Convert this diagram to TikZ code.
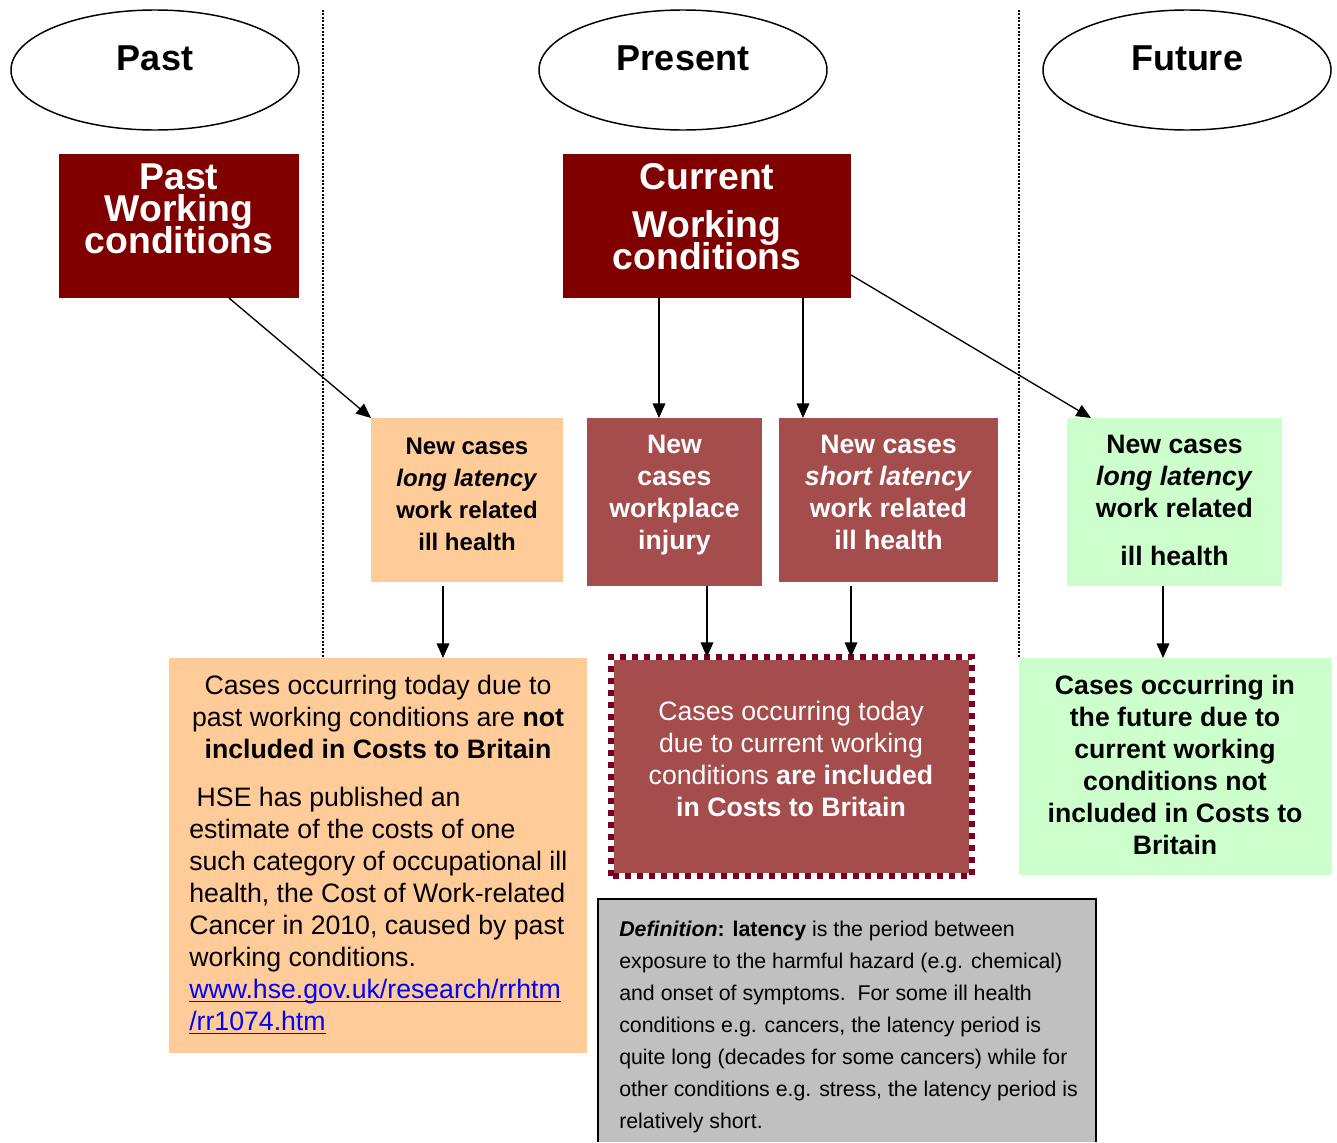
\documentclass[tikz,border=0pt]{standalone}
\usepackage{fontspec}
\setmainfont{Liberation Sans}
\usetikzlibrary{shapes.geometric,arrows.meta,calc,fit}
\definecolor{darkred}{HTML}{800000}
\definecolor{rose}{HTML}{A54C4C}
\definecolor{peach}{HTML}{FFCC99}
\definecolor{mint}{HTML}{CCFFCC}
\definecolor{greybox}{HTML}{C0C0C0}
\definecolor{dashred}{HTML}{7A0022}
\definecolor{linkblue}{HTML}{0000FF}
\newcommand\linkul[1]{\setbox0=\hbox{#1}\rlap{\rule[-2.4pt]{\wd0}{0.9pt}}\box0}
\newcommand\tightlines{\lineskiplimit=-50pt\relax}
\begin{document}
\begin{tikzpicture}[x=0.75pt,y=-0.75pt,
  box/.style={inner sep=0pt, outer sep=0pt},
  oval/.style={ellipse, draw, line width=1.1pt, minimum width=216pt, minimum height=90pt, inner sep=0pt},
  title/.style={font=\fontsize{27}{30}\selectfont\bfseries},
  head/.style={text=white, align=center, font=\fontsize{28}{24}\selectfont\bfseries\tightlines},
  small/.style={align=center, font=\fontsize{18}{24}\selectfont\bfseries\tightlines},
  mid/.style={align=center, font=\fontsize{20}{24}\selectfont\bfseries\tightlines},
  body/.style={font=\fontsize{20}{24}\selectfont\tightlines},
  arr/.style={line width=1pt, -{Triangle[length=11pt,width=9.5pt]}},
  sep/.style={line width=1.5pt, dash pattern=on 1.5pt off 1.1pt}
]
\useasboundingbox (0,0) rectangle (1337,1142);

% separators
\coordinate (s1a) at (323,10); \coordinate (s1b) at (323,657);
\coordinate (s2a) at (1019,10); \coordinate (s2b) at (1019,657);
\draw[sep] (s1a) -- (s1b);
\draw[sep] (s2a) -- (s2b);

% ellipses
\node[oval] (epast) at (155,70) {};
\node[oval] (epres) at (683,70) {};
\node[oval] (efut) at (1187,70) {};
\node[title] (tpast) at (155,58) {Past};
\node[title] (tpres) at (683,58) {Present};
\node[title] (tfut) at (1187,58) {Future};

% working condition boxes
\node[box, fill=darkred, fit={(59,154) (299,298)}] (pwc) {};
\node[box, fill=darkred, fit={(563,154) (851,298)}] (cwc) {};

% second row
\node[box, fill=peach, fit={(371,418) (563,582)}] (no1) {};
\node[box, fill=rose, fit={(587,418) (762,586)}] (nr1) {};
\node[box, fill=rose, fit={(779,418) (998,582)}] (nr2) {};
\node[box, fill=mint, fit={(1067,418) (1282,586)}] (ng) {};

% bottom row
\node[box, fill=peach, fit={(169,658) (587,1053)}] (ob) {};
\node[box, fill=rose, outer sep=2.25pt, fit={(614,660) (969,873)}] (rb) {};
\draw[dashred, line width=4.5pt, dash pattern=on 4.5pt off 4.5pt] (rb.south west) rectangle (rb.north east);
\node[box, fill=mint, fit={(1019,658) (1332,875)}] (gb) {};
\node[box, fill=greybox, fit={(598,899) (1096,1142)}] (gr) {};
\draw[line width=1.5pt] (gr.south west) |- (gr.north east) -- (gr.south east);

% arrows
\draw[arr] ($(pwc.south west)+(170,0)$) -- (no1.north west);
\coordinate (c1) at ($(cwc.south west)+(96,0)$);
\coordinate (c2) at ($(cwc.south west)+(240,0)$);
\draw[arr] (c1) -- (c1 |- nr1.north);
\draw[arr] (c2) -- (c2 |- nr2.north);
\draw[arr] ($(cwc.north east)!0.84!(cwc.south east)$) -- ($(ng.north west)+(24,0)$);
\coordinate (d1) at ($(no1.south west)+(72,0)$);
\coordinate (d2) at ($(nr1.south west)+(120,0)$);
\coordinate (d3) at ($(nr2.south west)+(72,0)$);
\coordinate (d4) at ($(ng.south west)+(96,0)$);
\draw[arr, shorten <=3pt] (d1) -- (d1 |- ob.north);
\draw[arr] (d2) -- (d2 |- rb.north);
\draw[arr, shorten <=3pt] (d3) -- (d3 |- rb.north);
\draw[arr] (d4) -- (d4 |- gb.north);

% texts
\node[head] (lpwc) at (179,209) {Past\\Working\\conditions};
\node[head] (lcwc) at (707,217) {Current\\[12pt]Working\\conditions};

\node[small] (lno1) at (467,494) {New cases\\\textit{long latency}\\work related\\ill health};
\node[mid, text=white] (lnr1) at (674.5,495.5) {New\\cases\\workplace\\injury};
\node[mid, text=white] (lnr2) at (888.5,492.5) {New cases\\\textit{short latency}\\work related\\ill health};
\node[mid] (lng) at (1174.5,500.5) {New cases\\\textit{long latency}\\work related\\[12pt]ill health};

\node[body, align=center] (lob1) at (378,716.5) {Cases occurring today due to\\past working conditions are \textbf{not}\\\textbf{included in Costs to Britain}};
\node[body, align=left, anchor=north west, inner sep=0pt] (lob2) at (189,787) {\hspace*{0.28em}HSE has published an\\estimate of the costs of one\\such category of occupational ill\\health, the Cost of Work-related\\Cancer in 2010, caused by past\\working conditions.\\{\color{linkblue}\linkul{www.hse.gov.uk/research/rrhtm}}\\{\color{linkblue}\linkul{/rr1074.htm}}};

\node[body, align=center, text=white] (lrb) at (791,759) {Cases occurring today\\due to current working\\conditions \textbf{are included}\\\textbf{in Costs to Britain}};
\node[mid] (lgb) at (1175,764.5) {Cases occurring in\\the future due to\\current working\\conditions not\\included in Costs to\\Britain};

\node[font=\fontsize{16}{24}\selectfont\tightlines, align=left, anchor=north west, inner sep=0pt] (lgr) at (619,921) {\textbf{\textit{Definition}: latency} is the period between\\exposure to the harmful hazard (e.g. chemical)\\and onset of symptoms.\ \ For some ill health\\conditions e.g. cancers, the latency period is\\quite long (decades for some cancers) while for\\other conditions e.g. stress, the latency period is\\relatively short.};
\end{tikzpicture}
\end{document}
